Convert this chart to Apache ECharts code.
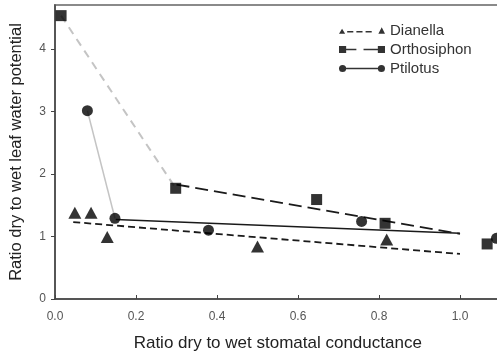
<!DOCTYPE html>
<html>
<head>
<meta charset="utf-8">
<script src="https://cdn.jsdelivr.net/npm/echarts@6/dist/echarts.min.js"></script>
<style>html,body{margin:0;padding:0;background:#fff;}#c{width:497px;height:355px;}</style>
</head>
<body>
<div id="c"></div>
<script>
// Data
var xTicks = [0.0, 0.2, 0.4, 0.6, 0.8, 1.0];
var yTicks = [0, 1, 2, 3, 4];
var seriesNames = ['Dianella', 'Orthosiphon', 'Ptilotus'];

var dianellaX = [0.049, 0.089, 0.129, 0.50, 0.819];
var dianellaY = [1.38, 1.38, 0.99, 0.84, 0.95];
var orthoX = [0.015, 0.298, 0.646, 0.815, 1.067];
var orthoY = [4.53, 1.77, 1.59, 1.21, 0.88];
var ptilX = [0.08, 0.148, 0.379, 0.757, 1.09];
var ptilY = [3.01, 1.29, 1.10, 1.24, 0.97];

// regression line end points
var dianellaFitX = [0.045, 1.0];
var dianellaFitY = [1.23, 0.72];
var orthoFitX = [0.30, 1.0];
var orthoFitY = [1.83, 1.04];
var ptilFitX = [0.15, 1.0];
var ptilFitY = [1.27, 1.05];

function pairs(xs, ys) { return xs.map(function (x, i) { return [x, ys[i]]; }); }

var chart = echarts.init(document.getElementById('c'));
var font = 'Liberation Sans, Arial, sans-serif';
chart.setOption({
  animation: false,
  backgroundColor: '#fff',
  grid: { left: 55, top: 5, right: -3.5, bottom: 56, show: true, borderColor: '#8a8a8a', borderWidth: 2,
    backgroundColor: 'transparent', containLabel: false, outerBoundsMode: 'none' },
  legend: {
    orient: 'vertical', left: 334, top: 18, itemWidth: 46, itemHeight: 8, itemGap: 4,
    textStyle: { fontFamily: font, fontSize: 15, color: '#333' },
    itemStyle: { color: '#000' },
    data: [
      { name: seriesNames[0], icon: 'path://M0 7.5L3 2.5L6 7.5Z M8 4.8h6v1.5h-6Z M17 4.8h6v1.5h-6Z M26 4.8h6v1.5h-6Z M38.5 7.5L41.8 1L45 7.5Z' },
      { name: seriesNames[1], icon: 'path://M0 0.5h7v7h-7Z M7 3.2h10v1.6h-10Z M24 3.2h14v1.6h-14Z M38 0.5h7v7h-7Z' },
      { name: seriesNames[2], icon: 'path://M0 4A3.5 3.5 0 1 1 7 4A3.5 3.5 0 1 1 0 4Z M6 3.2h33v1.6h-33Z M38 4A3.5 3.5 0 1 1 45 4A3.5 3.5 0 1 1 38 4Z' }
    ]
  },
  xAxis: {
    type: 'value', min: 0, max: 1.1, interval: 0.2,
    name: 'Ratio dry to wet stomatal conductance', nameLocation: 'middle', nameGap: 36,
    nameTextStyle: { fontFamily: font, fontSize: 17, color: '#222' },
    axisLine: { onZero: false, lineStyle: { color: '#444', width: 1.5 } },
    axisTick: { inside: true, length: 4, lineStyle: { color: '#444' } },
    splitLine: { show: false },
    axisLabel: { margin: 12, fontFamily: font, fontSize: 12, color: '#555', showMaxLabel: false,
      formatter: function (v) { return xTicks.indexOf(Math.round(v * 10) / 10) >= 0 ? v.toFixed(1) : ''; } }
  },
  yAxis: {
    type: 'value', min: 0, max: 4.7, interval: 1,
    name: 'Ratio dry to wet leaf water potential', nameLocation: 'middle', nameGap: 30, nameRotate: 90,
    nameTextStyle: { fontFamily: font, fontSize: 16.5, color: '#222' },
    axisLine: { show: true, onZero: false, lineStyle: { color: '#444', width: 1.5 } },
    axisTick: { show: true, length: 4, lineStyle: { color: '#444' } },
    splitLine: { show: false },
    axisLabel: { margin: 9, fontFamily: font, fontSize: 12, color: '#555', showMaxLabel: false,
      formatter: function (v) { return yTicks.indexOf(v) >= 0 ? String(v) : ''; } }
  },
  series: [
    { name: 'orthoLink', type: 'line', data: pairs(orthoX.slice(0, 2), orthoY.slice(0, 2)), symbol: 'none',
      lineStyle: { color: '#c4c4c4', width: 2, type: [8, 6] }, z: 1 },
    { name: 'ptilLink', type: 'line', data: pairs(ptilX.slice(0, 2), ptilY.slice(0, 2)), symbol: 'none',
      lineStyle: { color: '#c4c4c4', width: 1.5 }, z: 1 },
    { name: 'dianellaFit', type: 'line', data: pairs(dianellaFitX, dianellaFitY), symbol: 'none',
      lineStyle: { color: '#1a1a1a', width: 1.8, type: [7, 4] }, z: 2 },
    { name: 'orthoFit', type: 'line', data: pairs(orthoFitX, orthoFitY), symbol: 'none',
      lineStyle: { color: '#1a1a1a', width: 1.8, type: [13, 6] }, z: 2 },
    { name: 'ptilFit', type: 'line', data: pairs(ptilFitX, ptilFitY), symbol: 'none',
      lineStyle: { color: '#1a1a1a', width: 1.6 }, z: 2 },
    { name: seriesNames[0], type: 'scatter', data: pairs(dianellaX, dianellaY), symbol: 'triangle', symbolSize: [13, 12],
      itemStyle: { color: '#000' }, z: 3 },
    { name: seriesNames[1], type: 'scatter', data: pairs(orthoX, orthoY), symbol: 'rect', symbolSize: 11,
      itemStyle: { color: '#000' }, z: 3 },
    { name: seriesNames[2], type: 'scatter', data: pairs(ptilX, ptilY), symbol: 'circle', symbolSize: 11,
      itemStyle: { color: '#000' }, z: 3 }
  ]
});
</script>
</body>
</html>
